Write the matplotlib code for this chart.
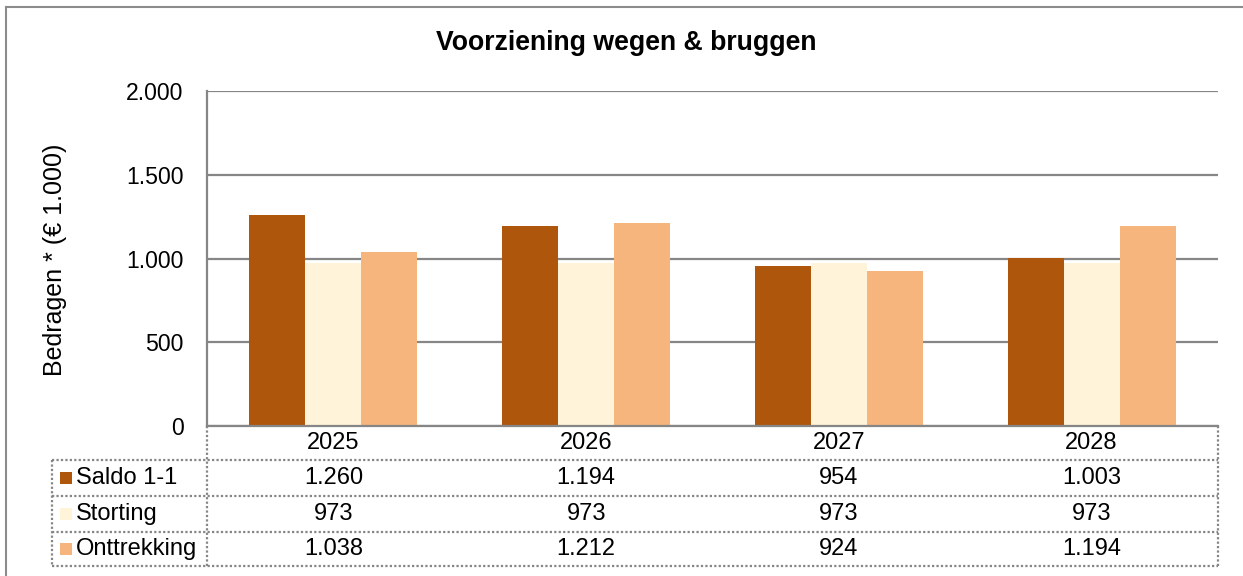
import matplotlib
matplotlib.use("Agg")
import matplotlib.pyplot as plt
import matplotlib.transforms as mtransforms
from matplotlib.patches import Rectangle
from matplotlib.lines import Line2D

plt.rcParams['font.family'] = ['Liberation Sans', 'DejaVu Sans']

# ---- data ----
title = "Voorziening wegen & bruggen"
ylabel = "Bedragen * (€ 1.000)"
years = ["2025", "2026", "2027", "2028"]
series_names = ["Saldo 1-1", "Storting", "Onttrekking"]
saldo = [1260, 1194, 954, 1003]
storting = [973, 973, 973, 973]
onttrekking = [1038, 1212, 924, 1194]
yticks = [0, 500, 1000, 1500, 2000]
ytick_labels = ["0", "500", "1.000", "1.500", "2.000"]
colors = ["#AE560C", "#FFF3DA", "#F5B57C"]

def fmt(v):
    return f"{v:,}".replace(",", ".")

W, H = 1243, 576
fig = plt.figure(figsize=(W / 100, H / 100), dpi=100)

# outer border (top & left)
fig.add_artist(Line2D([6 / W, 6 / W], [0, 1 - 7 / H], transform=fig.transFigure, color="#8c8c8c", lw=1.5))
fig.add_artist(Line2D([6 / W, 1], [1 - 7 / H, 1 - 7 / H], transform=fig.transFigure, color="#8c8c8c", lw=1.5))

left, right, top, bottom = 207, 1218, 91, 426
ax = fig.add_axes([left / W, 1 - bottom / H, (right - left) / W, (bottom - top) / H])

series = [saldo, storting, onttrekking]
n = len(series)
bw = 0.2216
x = list(range(len(years)))
for i, (vals, c) in enumerate(zip(series, colors)):
    ax.bar([xi + (i - (n - 1) / 2) * bw for xi in x], vals, width=bw, color=c, zorder=3, linewidth=0)

ax.set_xlim(-0.5, len(years) - 0.5)
ax.set_ylim(0, 2000)
ax.set_yticks(yticks)
ax.set_yticklabels(ytick_labels, fontsize=16.6)
ax.tick_params(axis="y", length=0, pad=17)
ax.set_xticks([])
ax.grid(axis="y", color="#868686", lw=1.6, zorder=1)
for s in ["top", "right"]:
    ax.spines[s].set_visible(False)
for s in ["left", "bottom"]:
    ax.spines[s].set_color("#868686")
    ax.spines[s].set_linewidth(1.6)
    ax.spines[s].set_zorder(4)

fig.text(626 / W, 1 - 43 / H, title, ha="center", va="center", fontsize=19.2, fontweight="bold")
fig.text(55 / W, 1 - 260 / H, ylabel, ha="center", va="center", rotation=90, fontsize=18)

# ---- data table ----
axh = bottom - top
trans = mtransforms.blended_transform_factory(ax.transData, ax.transAxes)
row_px = [0, 34, 70, 106, 140]
row_y = [-r / axh for r in row_px]
col_w = (right - left) / len(years)
label_left = -0.5 - (left - 52) / col_w
xr = len(years) - 0.5
dot = dict(color="#868686", lw=1.6, linestyle=(0, (1, 1)), transform=trans, clip_on=False)

for yy in row_y[1:]:
    ax.add_line(Line2D([label_left, xr], [yy, yy], **dot))
ax.add_line(Line2D([-0.5, -0.5], [row_y[0], row_y[-1]], **dot))
ax.add_line(Line2D([xr, xr], [row_y[0], row_y[-1]], **dot))
ax.add_line(Line2D([label_left, label_left], [row_y[1], row_y[-1]], **dot))

def mid(i):
    return (row_y[i] + row_y[i + 1]) / 2

fs = 17
for j, yr in enumerate(years):
    ax.text(j, mid(0), yr, transform=trans, ha="center", va="center", fontsize=fs)

sq_px = 12
for i, (name, vals, c) in enumerate(zip(series_names, series, colors)):
    ym = mid(i + 1)
    sx = label_left + (60 - 52) / col_w
    ax.add_patch(Rectangle((sx, ym - sq_px / 2 / axh), sq_px / col_w, sq_px / axh,
                           transform=trans, color=c, clip_on=False, lw=0))
    ax.text(label_left + (76 - 52) / col_w, ym, name, transform=trans, ha="left", va="center", fontsize=fs)
    for j, v in enumerate(vals):
        ax.text(j, ym, fmt(v), transform=trans, ha="center", va="center", fontsize=fs)

fig.savefig("out.png", dpi=100)
